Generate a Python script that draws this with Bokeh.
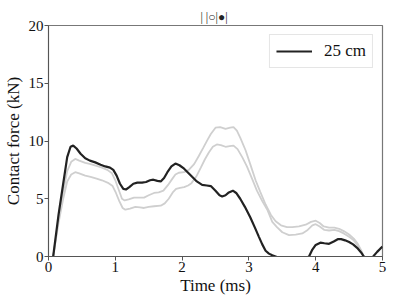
from bokeh.plotting import figure
from bokeh.models import Range1d, FixedTicker, Legend, LegendItem
from bokeh.embed import file_html
from bokeh.resources import INLINE

# Data (time in ms, force in kN)
t_black = [0.07, 0.15, 0.22, 0.28, 0.33, 0.37, 0.42, 0.48, 0.55, 0.62, 0.70, 0.78, 0.85, 0.92, 0.97,
           1.02, 1.07, 1.12, 1.16, 1.21, 1.27, 1.33, 1.40, 1.46, 1.52, 1.57, 1.63, 1.68, 1.73, 1.78,
           1.84, 1.90, 1.96, 2.03, 2.09, 2.15, 2.22, 2.30, 2.37, 2.43, 2.50, 2.56, 2.60, 2.65, 2.70,
           2.76, 2.81, 2.87, 2.94, 3.02, 3.09, 3.15, 3.20, 3.25, 3.30, 3.35, 3.40, 3.50, 3.65, 3.80,
           3.90, 3.95, 4.00, 4.07, 4.13, 4.20, 4.27, 4.33, 4.38, 4.44, 4.50, 4.56, 4.62, 4.68, 4.72,
           4.80, 4.86, 4.92, 4.97, 5.00]
f_black = [0.0, 3.6, 6.3, 8.6, 9.5, 9.6, 9.35, 8.9, 8.5, 8.3, 8.15, 7.95, 7.8, 7.7, 7.5,
           7.0, 6.3, 5.85, 5.8, 6.0, 6.3, 6.4, 6.4, 6.45, 6.6, 6.65, 6.55, 6.5, 6.8, 7.3,
           7.8, 8.05, 7.9, 7.6, 7.25, 6.9, 6.5, 6.2, 6.15, 6.1, 5.7, 5.3, 5.2, 5.3, 5.55,
           5.7, 5.5, 5.0, 4.3, 3.4, 2.5, 1.7, 1.05, 0.5, 0.25, 0.1, 0.0, -0.3, -0.5, -0.3,
           0.0, 0.6, 1.0, 1.2, 1.15, 1.1, 1.3, 1.5, 1.5, 1.4, 1.25, 1.05, 0.75, 0.35, 0.0,
           -0.3, 0.0, 0.4, 0.7, 0.85]

t_gray_hi = [0.07, 0.15, 0.22, 0.28, 0.34, 0.40, 0.46, 0.55, 0.63, 0.72, 0.80, 0.88, 0.95, 1.00,
             1.05, 1.10, 1.14, 1.20, 1.28, 1.36, 1.43, 1.50, 1.58, 1.65, 1.72, 1.79, 1.85, 1.90,
             1.95, 2.03, 2.10, 2.18, 2.25, 2.32, 2.38, 2.43, 2.50, 2.57, 2.65, 2.72, 2.77, 2.82,
             2.87, 2.95, 3.02, 3.10, 3.17, 3.25, 3.33, 3.40, 3.48, 3.57, 3.65, 3.75, 3.85, 3.93,
             4.00, 4.06, 4.12, 4.20, 4.28, 4.35, 4.42, 4.50, 4.57, 4.63, 4.68, 4.72]
f_gray_hi = [0.0, 3.2, 5.6, 7.4, 8.2, 8.45, 8.3, 8.1, 8.0, 7.85, 7.7, 7.5, 7.2, 6.6,
             5.8, 5.0, 4.85, 4.95, 5.1, 5.1, 5.1, 5.3, 5.5, 5.55, 5.7, 6.2, 6.7, 7.1,
             7.25, 7.3, 7.5, 8.0, 8.7, 9.45, 10.1, 10.6, 11.15, 11.2, 11.05, 11.15, 11.2, 10.9,
             10.3, 9.2, 8.0, 6.6, 5.6, 4.5, 3.6, 3.05, 2.7, 2.55, 2.55, 2.6, 2.75, 3.0,
             3.1, 2.9, 2.6, 2.5, 2.5, 2.4, 2.2, 1.9, 1.55, 1.1, 0.55, 0.0]

t_gray_lo = [0.07, 0.15, 0.22, 0.28, 0.34, 0.40, 0.46, 0.55, 0.63, 0.72, 0.80, 0.90, 0.96, 1.01,
             1.06, 1.11, 1.15, 1.22, 1.30, 1.37, 1.43, 1.50, 1.58, 1.68, 1.74, 1.80, 1.86, 1.91,
             1.97, 2.03, 2.09, 2.14, 2.21, 2.28, 2.34, 2.40, 2.46, 2.52, 2.58, 2.65, 2.71, 2.77,
             2.83, 2.90, 2.97, 3.05, 3.12, 3.20, 3.28, 3.35, 3.42, 3.50, 3.60, 3.70, 3.80, 3.88,
             3.95, 4.00, 4.06, 4.13, 4.20, 4.28, 4.35, 4.42, 4.50, 4.57, 4.63, 4.68, 4.72]
f_gray_lo = [0.0, 2.9, 5.0, 6.5, 7.1, 7.3, 7.2, 7.0, 6.9, 6.75, 6.6, 6.35, 6.1, 5.5,
             4.8, 4.2, 4.05, 4.15, 4.3, 4.25, 4.2, 4.3, 4.35, 4.4, 4.6, 5.0, 5.55, 5.85,
             5.95, 6.0, 6.15, 6.35, 6.9, 7.7, 8.4, 9.0, 9.5, 9.7, 9.65, 9.5, 9.55, 9.6,
             9.3, 8.6, 7.8, 6.7, 5.7, 4.8, 4.0, 3.0, 2.55, 2.1, 1.85, 1.9, 2.0, 2.3,
             2.7, 2.8, 2.6, 2.3, 2.25, 2.3, 2.2, 2.0, 1.7, 1.4, 0.95, 0.45, 0.0]

x_ticks = [0, 1, 2, 3, 4, 5]
y_ticks = [0, 5, 10, 15, 20]
title_text = "|  |○|●|"
legend_label = "25 cm"
x_label = "Time (ms)"
y_label = "Contact force (kN)"

FONT = "Liberation Serif"

p = figure(frame_width=334, frame_height=231, output_backend="svg", toolbar_location=None,
           x_range=Range1d(0, 5), y_range=Range1d(0, 20),
           min_border_left=45, min_border_right=8, min_border_top=25, min_border_bottom=43)

p.title.text = title_text
p.title.align = "center"
p.title.text_font = FONT
p.title.text_font_size = "12px"
p.title.text_font_style = "normal"
p.title.text_color = "#222222"
p.title.offset = 0
p.title.standoff = 4

p.line(t_gray_hi, f_gray_hi, line_color="#cfcfcf", line_width=1.8)
p.line(t_gray_lo, f_gray_lo, line_color="#cfcfcf", line_width=1.8)
r_black = p.line(t_black, f_black, line_color="#222222", line_width=2.2)

p.grid.visible = False
p.outline_line_color = "#777777"
p.outline_line_width = 1.2

p.xaxis.major_label_text_font = FONT
p.yaxis.major_label_text_font = FONT
for ax in (p.xaxis[0], p.yaxis[0]):
    ax.major_label_text_font_size = "15px"
    ax.major_label_text_color = "#111111"
    ax.axis_label_text_font = FONT
    ax.axis_label_text_font_size = "17px"
    ax.axis_label_text_font_style = "normal"
    ax.axis_label_text_color = "#111111"
    ax.axis_line_color = "#555555"
    ax.major_tick_line_color = "#555555"
    ax.major_tick_out = 4
    ax.major_tick_in = 0
    ax.minor_tick_line_color = None
    ax.major_label_standoff = 1
p.xaxis.axis_label_standoff = 1
p.yaxis.axis_label_standoff = 3

p.xaxis.ticker = FixedTicker(ticks=x_ticks)
p.yaxis.ticker = FixedTicker(ticks=y_ticks)
p.xaxis.axis_label = x_label
p.yaxis.axis_label = y_label

legend = Legend(items=[LegendItem(label=legend_label, renderers=[r_black])],
                location="top_right", label_text_font=FONT, label_text_font_size="17px",
                label_text_color="#111111",
                border_line_color="#cccccc", border_line_width=1, background_fill_alpha=1.0,
                glyph_width=36, label_standoff=12, padding=6, margin=9, spacing=0)
p.add_layout(legend)

open("out.html", "w").write(file_html(p, INLINE))
